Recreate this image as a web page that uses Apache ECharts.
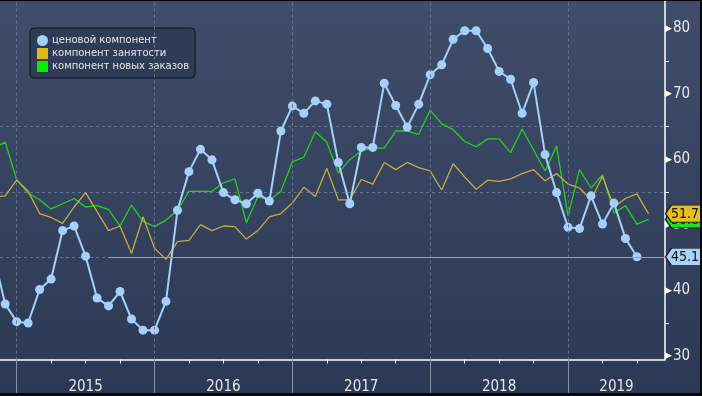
<!DOCTYPE html>
<html><head><meta charset="utf-8">
<script src="https://cdn.jsdelivr.net/npm/echarts@6/dist/echarts.min.js"></script>
<style>html,body{margin:0;padding:0;background:#000}#c{width:702px;height:396px}</style>
</head><body><div id="c"></div>
<script>
// ---- data ----
const months = [
 '2014-11','2014-12',
 '2015-01','2015-02','2015-03','2015-04','2015-05','2015-06','2015-07','2015-08','2015-09','2015-10','2015-11','2015-12',
 '2016-01','2016-02','2016-03','2016-04','2016-05','2016-06','2016-07','2016-08','2016-09','2016-10','2016-11','2016-12',
 '2017-01','2017-02','2017-03','2017-04','2017-05','2017-06','2017-07','2017-08','2017-09','2017-10','2017-11','2017-12',
 '2018-01','2018-02','2018-03','2018-04','2018-05','2018-06','2018-07','2018-08','2018-09','2018-10','2018-11','2018-12',
 '2019-01','2019-02','2019-03','2019-04','2019-05','2019-06','2019-07','2019-08'
];
const prices = [
 45.3, 37.9,
 35.2, 35.0, 40.1, 41.7, 49.1, 49.8, 45.2, 38.8, 37.6, 39.8, 35.6, 33.9,
 33.9, 38.3, 52.2, 58.1, 61.5, 59.9, 54.9, 53.8, 53.2, 54.8, 53.6, 64.3,
 68.1, 67.0, 68.9, 68.4, 59.5, 53.2, 61.8, 61.8, 71.6, 68.2, 64.9, 68.4,
 72.9, 74.4, 78.3, 79.6, 79.6, 76.9, 73.4, 72.2, 67.0, 71.7, 60.7, 54.9,
 49.6, 49.4, 54.4, 50.1, 53.3, 47.9, 45.1, null
];
const employment = [
 54.2, 54.4,
 56.8, 55.1, 51.7, 51.1, 50.2, 52.7, 54.9, 52.0, 49.1, 49.8, 45.6, 51.2,
 46.4, 44.7, 47.4, 47.6, 50.0, 49.1, 49.8, 49.7, 47.8, 49.1, 51.2, 51.7,
 53.3, 55.7, 54.3, 58.6, 53.8, 53.8, 56.9, 56.2, 59.5, 58.4, 59.5, 58.7,
 58.2, 55.3, 59.3, 57.3, 55.4, 56.8, 56.6, 57.0, 57.8, 58.4, 56.7, 57.8,
 56.2, 55.6, 53.8, 57.4, 52.7, 54.0, 54.7, 51.7
];
const newOrders = [
 61.6, 62.6,
 56.9, 54.8, 53.8, 52.4, 53.2, 54.0, 52.7, 52.9, 52.3, 49.8, 53.0, 50.5,
 49.7, 50.7, 52.2, 55.1, 55.1, 55.1, 56.4, 57.0, 50.3, 54.3, 53.7, 55.1,
 59.6, 60.3, 64.2, 62.6, 57.9, 59.9, 61.3, 61.7, 61.7, 64.3, 64.3, 63.8,
 67.5, 65.4, 64.5, 62.7, 61.9, 63.1, 63.1, 61.0, 64.6, 61.4, 58.2, 62.0,
 51.3, 58.4, 55.6, 57.6, 51.8, 52.9, 50.1, 50.8
];
const seriesNames = ['ценовой компонент', 'компонент занятости', 'компонент новых заказов'];
const yearLabels = ['2015', '2016', '2017', '2018', '2019'];
const yTickLabels = [30, 40, 50, 60, 70, 80];
const yMinorTicks = [35, 45, 55, 65, 75];
const levelStart = '2015-09';
const levelValue = 45.1;

// ---- layout / scale settings ----
const X_MIN = -1.45, X_MAX = 56.44, Y_MIN = 29.42, Y_MAX = 84.3;
const NARROW = "'Liberation Sans Narrow','DejaVu Sans Condensed',sans-serif";

function mIdx(s) { const p = s.split('-').map(Number); return (p[0] - 2015) * 12 + (p[1] - 1); }
const pairs = arr => months.map((m, i) => [mIdx(m), arr[i]]);
const lastVal = arr => { for (let i = arr.length - 1; i >= 0; i--) if (arr[i] != null) return arr[i]; };

const yearStarts = yearLabels.map(y => mIdx(y + '-01'));
const yearMids = yearStarts.map(s => (s + Math.min(s + 12, X_MAX)) / 2);
const quarterTicks = [];
for (let m = 0; m <= X_MAX; m += 3) quarterTicks.push(m);

const TAG = 'path://M0,9 L6,0 L38,0 L38,18 L6,18 Z';
function tag(value, fill, z) {
  return {
    silent: true, z: z,
    symbol: TAG, symbolSize: [37, 17], symbolKeepAspect: false, symbolOffset: [19, 0],
    itemStyle: { color: fill, borderColor: '#14181f', borderWidth: 1 },
    label: { show: true, position: 'inside', offset: [1, 1], color: '#111', fontFamily: NARROW, fontSize: 14,
             formatter: () => value.toFixed(1) },
    data: [{ coord: [X_MAX, value] }]
  };
}

const chart = echarts.init(document.getElementById('c'), null, { renderer: 'canvas' });
chart.setOption({
  animation: false,
  backgroundColor: { type: 'linear', x: 0, y: 0, x2: 0, y2: 1,
    colorStops: [{ offset: 0, color: '#404d6a' }, { offset: 1, color: '#2b3955' }] },
  grid: { left: 0, right: 37, top: 0, bottom: 36.5 },
  legend: {
    orient: 'vertical', left: 30, top: 28, itemGap: 2, itemWidth: 11, itemHeight: 11,
    padding: [7, 6, 6, 7],
    backgroundColor: '#2f3c58', borderColor: '#0e121a', borderWidth: 1, borderRadius: 4,
    textStyle: { color: '#e6e6e6', fontSize: 10, fontFamily: "'DejaVu Sans',sans-serif", padding: [0, 0, 0, -1] },
    data: [
      { name: seriesNames[0], icon: 'circle', itemStyle: { color: '#a6d0f7' } },
      { name: seriesNames[1], icon: 'rect', itemStyle: { color: '#e2b818' } },
      { name: seriesNames[2], icon: 'rect', itemStyle: { color: '#00f000' } }
    ]
  },
  xAxis: [
    {
      type: 'value', min: X_MIN, max: X_MAX, position: 'bottom',
      axisLine: { show: true, onZero: false, lineStyle: { color: '#ffffff', width: 1.5 } },
      axisTick: { show: true, customValues: quarterTicks, length: 4, lineStyle: { color: '#ffffff', width: 1 } },
      axisLabel: { show: true, customValues: yearMids, margin: 20, color: '#e6e6e6', fontFamily: NARROW, fontSize: 15,
        formatter: v => { const i = yearMids.findIndex(x => Math.abs(x - v) < 1e-6); return i >= 0 ? yearLabels[i] : ''; } },
      splitLine: { show: false }
    },
    {
      type: 'value', min: X_MIN, max: X_MAX, position: 'bottom',
      axisLine: { show: false, onZero: false },
      axisTick: { show: true, customValues: yearStarts, length: 34, lineStyle: { color: '#8a93a6', width: 1 } },
      axisLabel: { show: false },
      splitLine: { show: false }
    }
  ],
  yAxis: {
    type: 'value', position: 'right', min: Y_MIN, max: Y_MAX,
    axisLine: { show: true, onZero: false, lineStyle: { color: '#ffffff', width: 1.5 } },
    axisTick: { show: true, customValues: yMinorTicks, length: 4, lineStyle: { color: '#ffffff' } },
    axisLabel: {
      show: true, customValues: yTickLabels, margin: 0,
      formatter: v => '{t|▶}{v|' + v + '}',
      rich: {
        t: { fontFamily: "'DejaVu Sans',sans-serif", fontSize: 9, color: '#ffffff', padding: [0, 1, 0, 0] },
        v: { fontFamily: NARROW, fontSize: 15, color: '#e6e6e6' }
      }
    },
    splitLine: { show: true, showMinLine: false, showMaxLine: false,
      lineStyle: { color: '#62718f', type: [3, 3], width: 1 } }
  },
  graphic: [
    { type: 'rect', shape: { x: 0, y: 0, width: 702, height: 1 }, style: { fill: '#05070a' }, z: 100 },
    { type: 'rect', shape: { x: 0, y: 393, width: 702, height: 3 }, style: { fill: '#05070a' }, z: 100 },
    { type: 'rect', shape: { x: 700, y: 0, width: 2, height: 396 }, style: { fill: '#05070a' }, z: 100 }
  ],
  series: [
    {
      name: seriesNames[2], type: 'line', data: pairs(newOrders), showSymbol: false, symbol: 'none',
      lineStyle: { color: '#1fd21f', width: 1.3 }, itemStyle: { color: '#1fd21f' }, z: 2,
      markLine: {
        silent: true, symbol: 'none', label: { show: false },
        lineStyle: { color: '#62718f', type: [3, 3], width: 1 },
        data: yearStarts.map(s => ({ xAxis: s }))
      },
      markPoint: tag(lastVal(newOrders), '#22e022', 5)
    },
    {
      name: seriesNames[1], type: 'line', data: pairs(employment), showSymbol: false, symbol: 'none',
      lineStyle: { color: '#c9aa3e', width: 1.3 }, itemStyle: { color: '#c9aa3e' }, z: 3,
      markPoint: tag(lastVal(employment), '#e6bf1e', 6)
    },
    {
      name: seriesNames[0], type: 'line', data: pairs(prices), symbol: 'circle', symbolSize: 9, showSymbol: true,
      lineStyle: { color: '#a6d0f7', width: 2 }, itemStyle: { color: '#a6d0f7' }, z: 4,
      markLine: {
        silent: true, symbol: 'none', label: { show: false },
        lineStyle: { color: '#7ba6e6', type: 'solid', width: 1 },
        data: [[{ coord: [mIdx(levelStart), levelValue] }, { coord: [X_MAX, levelValue] }]]
      },
      markPoint: tag(levelValue, '#a9d3fa', 7)
    }
  ]
});
</script></body></html>
